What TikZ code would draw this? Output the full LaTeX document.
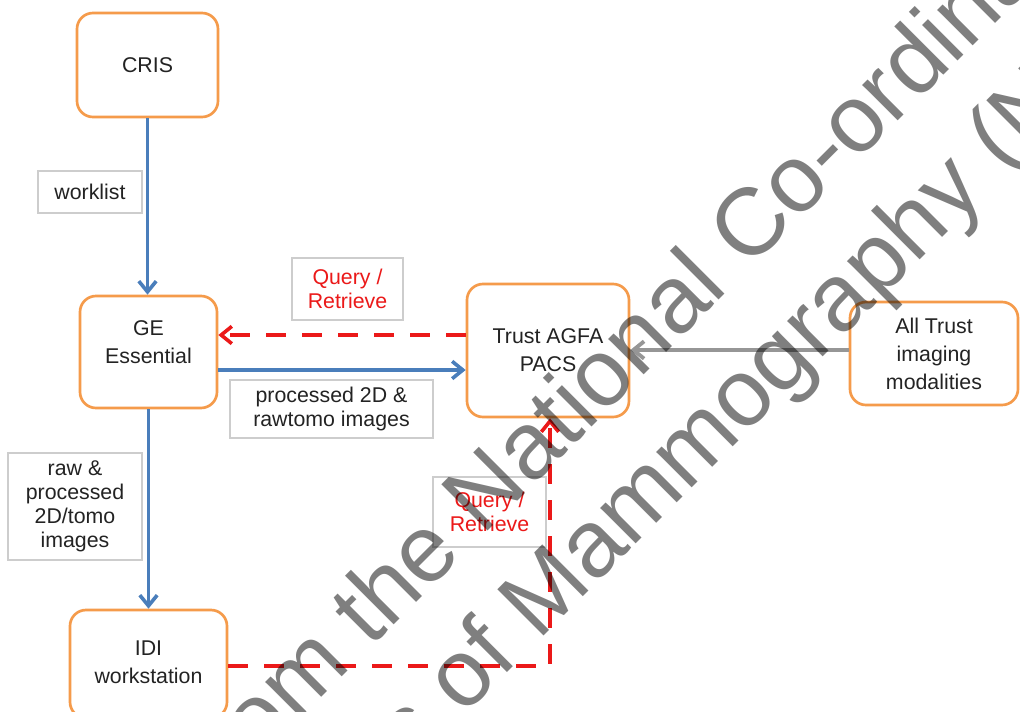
\documentclass[tikz,border=0pt]{standalone}
\usepackage{fontspec}
\setmainfont{Liberation Sans}
\newfontfamily\wmfont{Liberation Sans}
\usetikzlibrary{arrows.meta}
\definecolor{boxorange}{RGB}{245,155,75}
\definecolor{flowblue}{RGB}{74,126,187}
\definecolor{qred}{RGB}{235,25,25}
\definecolor{feedgrey}{RGB}{150,150,150}
\definecolor{labelgrey}{RGB}{205,205,205}
\definecolor{ink}{RGB}{35,35,35}
\begin{document}
\begin{tikzpicture}[x=0.75pt,y=-0.75pt,
  sysbox/.style={draw=boxorange, line width=2pt, rounded corners=12pt, fill=white,
    text=ink, align=center, inner sep=0pt, font=\fontsize{16}{21}\selectfont},
  tagbox/.style={draw=labelgrey, line width=1.1pt, fill=white, text=ink, align=center,
    inner sep=0pt, font=\fontsize{16}{18}\selectfont},
  qtag/.style={tagbox, text=qred},
  tip/.style={-{Straight Barb[length=8pt,width=13pt]}},
  flow/.style={draw=flowblue, line width=2.7pt, tip},
  query/.style={draw=qred, line width=2.7pt, dash pattern=on 15pt off 12pt, tip},
  feed/.style={draw=feedgrey, line width=2.9pt, tip},
  wmark/.style={font=\wmfont\fontsize{71.25}{71.25}\selectfont, text=black,
    text opacity=0.5, rotate=45, inner sep=0pt}
]
\useasboundingbox (0,0) rectangle (1020,711);
\fill[white] (0,0) rectangle (1020,711);
\begin{scope}
\clip (0,0) rectangle (1020,711);

% systems
\node[sysbox, minimum width=105.75pt, minimum height=78pt] (cris) at (147.5,65) {CRIS};
\node[sysbox, minimum width=102.75pt, minimum height=84pt,
  label={[align=center, text=ink, font=\fontsize{16}{21}\selectfont, yshift=7.5pt]center:GE\\Essential}]
  (ge) at (148.5,352) {};
\node[sysbox, minimum width=121.5pt, minimum height=99.75pt] (pacs) at (548,350.5) {Trust AGFA\\PACS};
\node[sysbox, minimum width=126pt, minimum height=77.25pt] (trust) at (934,353.5) {All Trust\\imaging\\modalities};
\node[sysbox, minimum width=117.75pt, minimum height=81pt,
  label={[align=center, text=ink, font=\fontsize{16}{21}\selectfont, yshift=1.5pt]center:IDI\\workstation}]
  (idi) at (148.5,664) {};

% rails for the horizontal and vertical connectors
\coordinate (qy) at (0,335);
\coordinate (py) at (0,370);
\coordinate (fy) at (350,350);
\coordinate (ry) at (0,666);
\coordinate (rx) at (550,0);

% connectors
\draw[flow] (cris.south) -- (cris.south |- ge.north);
\draw[flow] (ge.south) -- (ge.south |- idi.north);
\draw[flow] (ge.east |- py) -- (pacs.west |- py);
\draw[query] (pacs.west |- qy) -- (ge.east |- qy);
\draw[feed] (trust.west |- fy) -- (pacs.east |- fy);
\draw[query] (idi.east |- ry) -| (rx |- pacs.south);

% connector labels
\node[tagbox, minimum width=78pt, minimum height=31.5pt] (worklist) at (90,192) {worklist};
\node[qtag, minimum width=83.25pt, minimum height=46.5pt] (qr1) at (347.5,289) {Query /\\Retrieve};
\node[tagbox, minimum width=152.25pt, minimum height=43.5pt] (proc) at (331.5,409) {processed 2D \&\\rawtomo images};
\node[tagbox, minimum width=100.5pt, minimum height=80.25pt] (raw) at (75,506.5) {raw \&\\processed\\2D/tomo\\images};
\node[qtag, minimum width=84.75pt, minimum height=52.5pt] (qr2) at (489.5,512) {Query /\\Retrieve};

% diagonal overprint
\coordinate (wm1) at (714.7,304.3);
\coordinate (wm2) at (915.7,264.3);
\node[wmark, anchor=base east] (wmA) at (wm1) {from the Nationa};
\node[wmark, anchor=base west] (wmB) at (wm1) {l Co-ordinating};
\node[wmark, anchor=base east] (wmC) at (wm2) {Physics of Mammograp};
\node[wmark, anchor=base west] (wmD) at (wm2) {hy (NCCPM)};
\end{scope}
\end{tikzpicture}
\end{document}
